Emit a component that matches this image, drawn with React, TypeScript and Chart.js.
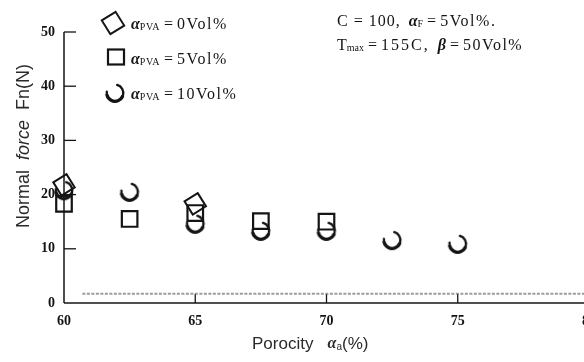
import React, { useEffect, useRef } from 'react';
import { Chart, registerables } from 'chart.js';

Chart.register(...registerables);

// ---- data ----
const porosity0 = [60, 65];
const force0 = [21.8, 18.3];
const porosity5 = [60, 62.5, 65, 67.5, 70];
const force5 = [18.3, 15.5, 16.6, 15.1, 15.0];
const porosity10 = [60, 62.5, 65, 67.5, 70, 72.5, 75];
const force10 = [20.8, 20.5, 14.6, 13.3, 13.3, 11.6, 10.9];
const bandX = [60.7, 80];
const bandY = [1.7, 1.7];
const xTicks = [60, 65, 70, 75, 80];
const yTicks = [0, 10, 20, 30, 40, 50];
const legendValues = ['0Vol%', '5Vol%', '10Vol%'];

const SERIF = '"Liberation Serif", "DejaVu Serif", serif';
const SANS = '"Liberation Sans", Arial, sans-serif';
const INK = '#141414';

type Seg = { t: string; font: string; dy?: number; ls?: number };

function segWidth(ctx: CanvasRenderingContext2D, segs: Seg[]) {
  let w = 0;
  for (const s of segs) {
    ctx.font = s.font;
    (ctx as any).letterSpacing = (s.ls ?? 0) + 'px';
    w += ctx.measureText(s.t).width;
  }
  (ctx as any).letterSpacing = '0px';
  return w;
}

function drawRich(ctx: CanvasRenderingContext2D, x: number, y: number, segs: Seg[]) {
  let cx = x;
  for (const s of segs) {
    ctx.font = s.font;
    (ctx as any).letterSpacing = (s.ls ?? 0) + 'px';
    ctx.fillText(s.t, cx, y + (s.dy ?? 0));
    cx += ctx.measureText(s.t).width;
  }
  (ctx as any).letterSpacing = '0px';
}

function makeCircleMarker() {
  const c = document.createElement('canvas');
  c.width = 24;
  c.height = 24;
  const g = c.getContext('2d')!;
  g.strokeStyle = INK;
  g.lineCap = 'round';
  g.lineWidth = 2.3;
  g.beginPath();
  g.arc(12, 12, 8.3, (-75 * Math.PI) / 180, (190 * Math.PI) / 180);
  g.stroke();
  g.lineWidth = 3.3;
  g.beginPath();
  g.arc(12, 12, 8.3, (25 * Math.PI) / 180, (165 * Math.PI) / 180);
  g.stroke();
  return c;
}

function drawDiamond(ctx: CanvasRenderingContext2D, x: number, y: number, r: number, rotDeg: number) {
  const rad = (rotDeg * Math.PI) / 180 + Math.PI / 4;
  ctx.beginPath();
  for (let i = 0; i < 4; i++) {
    const a = rad + (i * Math.PI) / 2;
    const px = x + Math.cos(a) * r;
    const py = y + Math.sin(a) * r;
    if (i === 0) ctx.moveTo(px, py);
    else ctx.lineTo(px, py);
  }
  ctx.closePath();
  ctx.stroke();
}

export default function App() {
  const ref = useRef<HTMLCanvasElement>(null);

  useEffect(() => {
    const circleImg = makeCircleMarker();

    const decor = {
      id: 'decor',
      beforeDatasetsDraw(chart: any) {
        const ctx: CanvasRenderingContext2D = chart.ctx;
        const { left, bottom } = chart.chartArea;
        const xs = chart.scales.x;
        const ys = chart.scales.y;
        ctx.save();
        ctx.strokeStyle = INK;
        ctx.lineWidth = 1.5;
        // y axis
        ctx.beginPath();
        ctx.moveTo(left, ys.getPixelForValue(50));
        ctx.lineTo(left, bottom);
        ctx.stroke();
        // x axis
        ctx.beginPath();
        ctx.moveTo(left, bottom);
        ctx.lineTo(chart.width, bottom);
        ctx.stroke();
        // inward ticks
        ctx.lineWidth = 1.3;
        for (const v of yTicks) {
          if (v === 0) continue;
          const py = ys.getPixelForValue(v);
          ctx.beginPath();
          ctx.moveTo(left, py);
          ctx.lineTo(left + 12, py);
          ctx.stroke();
        }
        for (const v of xTicks) {
          if (v === 60) continue;
          const px = xs.getPixelForValue(v);
          ctx.beginPath();
          ctx.moveTo(px, bottom);
          ctx.lineTo(px, bottom - 9);
          ctx.stroke();
        }
        ctx.restore();
      },
      afterDraw(chart: any) {
        const ctx: CanvasRenderingContext2D = chart.ctx;
        ctx.save();
        ctx.fillStyle = INK;
        ctx.textBaseline = 'alphabetic';
        ctx.textAlign = 'left';

        // legend
        const legendY = [29, 64, 99];
        const markerY = [23, 57, 93];
        ctx.strokeStyle = INK;
        ctx.lineWidth = 2;
        drawDiamond(ctx, 113, markerY[0], 11.5, 58);
        ctx.lineWidth = 2.2;
        ctx.strokeRect(116 - 8, markerY[1] - 7.5, 16, 15);
        ctx.drawImage(circleImg, 115 - 12, markerY[2] - 12);
        legendValues.forEach((val, i) => {
          drawRich(ctx, 131, legendY[i], [
            { t: 'α', font: `italic bold 16px ${SERIF}` },
            { t: 'PVA', font: `10px ${SERIF}`, dy: 1, ls: 0.5 },
            { t: ' = ', font: `16px ${SERIF}` },
            { t: val, font: `16px ${SERIF}`, ls: 1.5 },
          ]);
        });

        // annotation
        drawRich(ctx, 337, 26, [
          { t: 'C = 100,', font: `16px ${SERIF}`, ls: 1 },
          { t: '  ', font: `16px ${SERIF}` },
          { t: 'α', font: `italic bold 16px ${SERIF}` },
          { t: 'F', font: `10px ${SERIF}`, dy: 1 },
          { t: ' = ', font: `16px ${SERIF}` },
          { t: '5Vol%.', font: `16px ${SERIF}`, ls: 1.5 },
        ]);
        drawRich(ctx, 337, 50, [
          { t: 'T', font: `16px ${SERIF}` },
          { t: 'max', font: `10px ${SERIF}`, dy: 1 },
          { t: ' = ', font: `16px ${SERIF}` },
          { t: '155C,', font: `16px ${SERIF}`, ls: 2 },
          { t: '  ', font: `16px ${SERIF}` },
          { t: 'β', font: `italic bold 16px ${SERIF}` },
          { t: ' = ', font: `16px ${SERIF}` },
          { t: '50Vol%', font: `16px ${SERIF}`, ls: 1.5 },
        ]);

        // axis titles
        ctx.fillStyle = '#2a2a2a';
        ctx.textBaseline = 'middle';
        const xTitle: Seg[] = [
          { t: 'Porocity   ', font: `17px ${SANS}` },
          { t: 'α', font: `italic bold 16px ${SERIF}` },
          { t: 'a', font: `10px ${SANS}`, dy: 3 },
          { t: '(%)', font: `17px ${SANS}` },
        ];
        drawRich(ctx, 252, 344, xTitle);

        const yTitle: Seg[] = [
          { t: 'Normal  ', font: `18px ${SANS}` },
          { t: 'force', font: `italic 18px ${SANS}` },
          { t: '  Fn(N)', font: `18px ${SANS}` },
        ];
        const yw = segWidth(ctx, yTitle);
        ctx.translate(24, 146);
        ctx.rotate(-Math.PI / 2);
        drawRich(ctx, -yw / 2, 0, yTitle);
        ctx.restore();
      },
    };

    const toPts = (xs: number[], ys: number[]) => xs.map((x, i) => ({ x, y: ys[i] }));

    const chart = new Chart(ref.current!, {
      type: 'scatter',
      data: {
        datasets: [
          {
            label: 'αPVA = 0Vol%',
            data: toPts(porosity0, force0),
            pointStyle: 'rect',
            rotation: 58,
            pointRadius: 11,
            pointHoverRadius: 11,
            borderColor: INK,
            borderWidth: 2,
            backgroundColor: 'rgba(0,0,0,0)',
            clip: false,
          },
          {
            label: 'αPVA = 5Vol%',
            data: toPts(porosity5, force5),
            pointStyle: 'rect',
            pointRadius: 11,
            pointHoverRadius: 11,
            borderColor: INK,
            borderWidth: 2.2,
            backgroundColor: 'rgba(0,0,0,0)',
            clip: false,
          },
          {
            label: 'αPVA = 10Vol%',
            data: toPts(porosity10, force10),
            pointStyle: circleImg as any,
            pointRadius: 9,
            borderColor: INK,
            backgroundColor: 'rgba(0,0,0,0)',
            clip: false,
          },
          {
            label: 'band',
            data: toPts(bandX, bandY),
            showLine: true,
            pointRadius: 0,
            borderColor: 'rgba(90,90,90,0.6)',
            borderWidth: 2,
            borderDash: [3, 1.5],
            clip: false,
          },
        ],
      } as any,
      options: {
        animation: false,
        responsive: false,
        devicePixelRatio: 1,
        layout: { autoPadding: false, padding: { top: 32, left: 0, right: 3, bottom: 0 } },
        plugins: { legend: { display: false }, tooltip: { enabled: false }, title: { display: false } },
        events: [],
        scales: {
          x: {
            type: 'linear',
            min: 60,
            max: 80,
            afterBuildTicks: (s: any) => {
              s.ticks = xTicks.map((v) => ({ value: v }));
            },
            afterFit: (s: any) => {
              s.height = 59;
              s.paddingLeft = 0;
              s.paddingRight = 0;
            },
            grid: { display: false, drawTicks: false },
            border: { display: false },
            ticks: {
              autoSkip: false,
              maxRotation: 0,
              padding: 10,
              color: INK,
              font: { family: SERIF, size: 14, weight: 'bold' },
            },
          },
          y: {
            type: 'linear',
            min: 0,
            max: 50,
            afterBuildTicks: (s: any) => {
              s.ticks = yTicks.map((v) => ({ value: v }));
            },
            afterFit: (s: any) => {
              s.width = 64;
              s.paddingTop = 0;
              s.paddingBottom = 0;
            },
            grid: { display: false, drawTicks: false },
            border: { display: false },
            ticks: {
              padding: 9,
              color: INK,
              font: { family: SERIF, size: 14, weight: 'bold' },
            },
          },
        },
      } as any,
      plugins: [decor],
    });
    return () => chart.destroy();
  }, []);

  return (
    <div
      style={{
        position: 'absolute',
        left: 0,
        top: 0,
        width: 584,
        height: 362,
        overflow: 'hidden',
        background: '#fff',
      }}
    >
      <canvas ref={ref} width={592} height={362} style={{ display: 'block', width: 592, height: 362 }} />
    </div>
  );
}
